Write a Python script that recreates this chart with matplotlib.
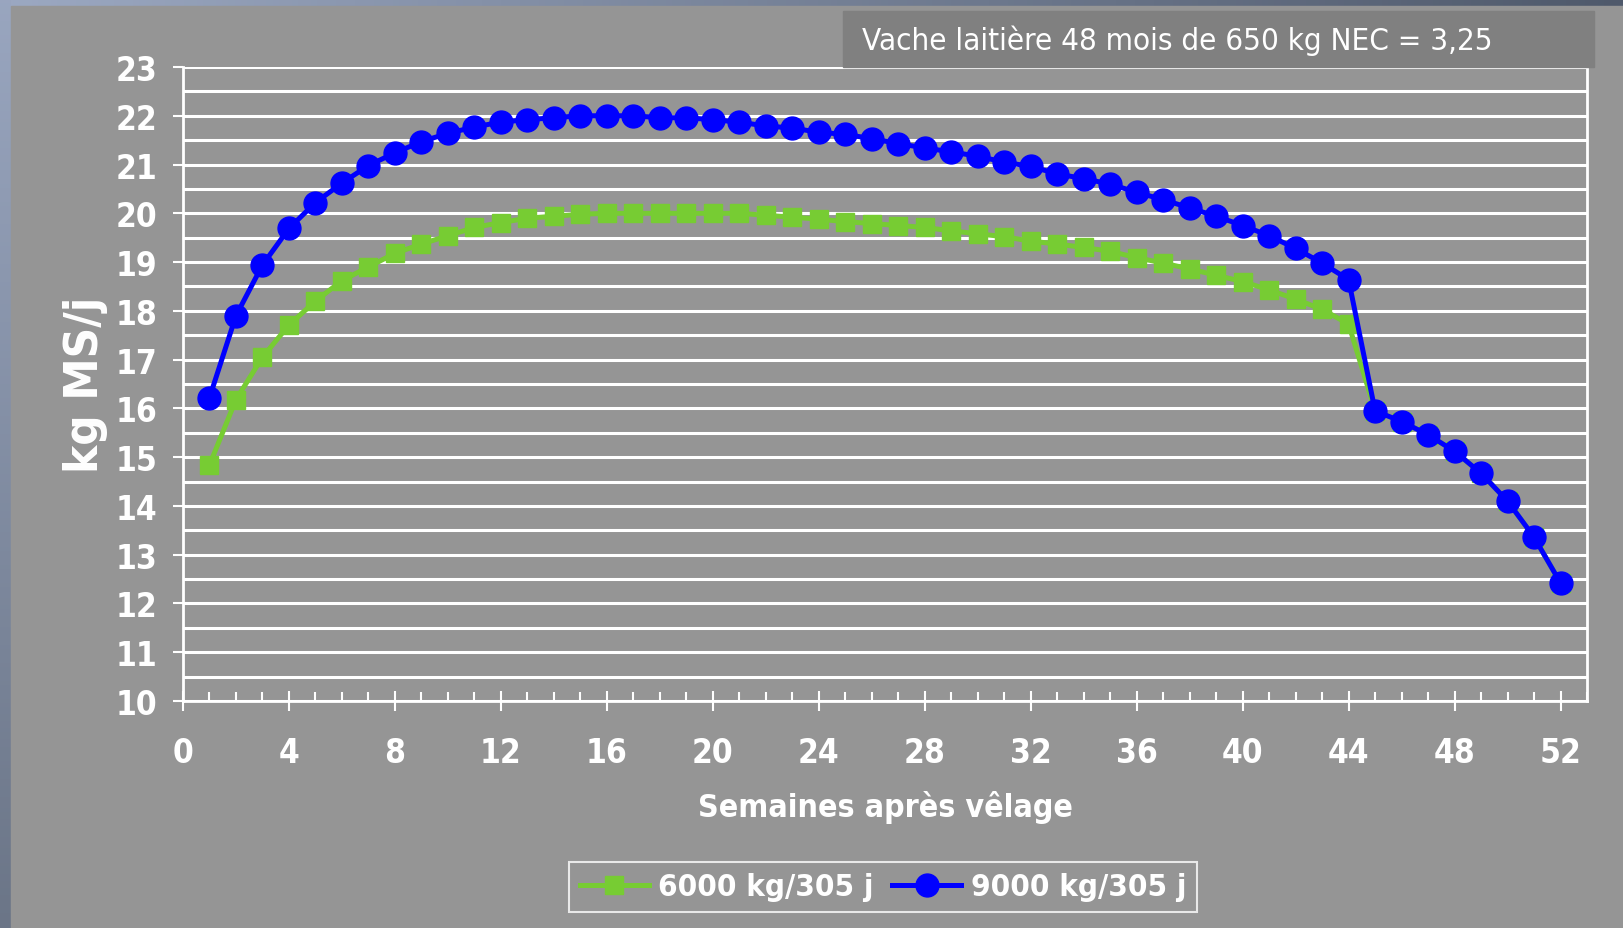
import numpy as np
import matplotlib
matplotlib.use("Agg")
import matplotlib.pyplot as plt
from matplotlib.patches import Rectangle
from matplotlib.ticker import MultipleLocator
from matplotlib.font_manager import FontProperties

# weekly dry matter intake (kg MS/j) after calving
weeks = list(range(1, 53))
intake_9000 = [16.22, 17.90, 18.94, 19.69, 20.22, 20.62, 20.98, 21.24, 21.47, 21.64,
               21.77, 21.87, 21.92, 21.96, 22.00, 22.00, 22.00, 21.96, 21.96, 21.92,
               21.87, 21.79, 21.75, 21.66, 21.62, 21.53, 21.43, 21.34, 21.26, 21.17,
               21.05, 20.96, 20.81, 20.71, 20.60, 20.43, 20.28, 20.11, 19.94, 19.75,
               19.54, 19.28, 18.98, 18.64, 15.95, 15.73, 15.46, 15.12, 14.67, 14.10,
               13.36, 12.42]
intake_6000 = [14.84, 16.18, 17.05, 17.71, 18.20, 18.62, 18.90, 19.18, 19.37, 19.54,
               19.71, 19.81, 19.90, 19.94, 19.98, 20.00, 20.00, 20.00, 20.00, 20.00,
               20.00, 19.96, 19.92, 19.88, 19.83, 19.79, 19.75, 19.71, 19.64, 19.58,
               19.52, 19.43, 19.37, 19.30, 19.22, 19.09, 18.98, 18.86, 18.73, 18.60,
               18.43, 18.24, 18.03, 17.73, 15.95, 15.73, 15.46, 15.12, 14.67, 14.10,
               13.36, 12.42]
label_6000 = "6000 kg/305 j"
label_9000 = "9000 kg/305 j"
title = "Vache laitière 48 mois de 650 kg NEC = 3,25"

W, H = 1623, 929
bg = "#959595"
fig = plt.figure(figsize=(W / 100, H / 100), dpi=100, facecolor=bg)

# slide border strips (gradient)
ax_bg = fig.add_axes([0, 0, 1, 1], zorder=-5)
ax_bg.axis("off")
ax_bg.set_xlim(0, W)
ax_bg.set_ylim(H, 0)
ramp = np.linspace(0, 1, 256)
c0, c1 = np.array([0.61, 0.66, 0.76]), np.array([0.31, 0.35, 0.42])
top_img = (c0[None, :] * (1 - ramp[:, None]) + c1[None, :] * ramp[:, None])[None, :, :]
ax_bg.imshow(top_img, extent=(0, W, 7, 0), aspect="auto")
l0, l1 = np.array([0.60, 0.65, 0.75]), np.array([0.42, 0.46, 0.53])
left_img = (l0[None, :] * (1 - ramp[:, None]) + l1[None, :] * ramp[:, None])[:, None, :]
ax_bg.imshow(left_img, extent=(0, 11, H, 0), aspect="auto")
ax_bg.add_patch(Rectangle((11, 7), W - 11, H - 7, color=bg))

x0, x1, y0, y1 = 183, 1587, 68, 702
ax = fig.add_axes([x0 / W, 1 - y1 / H, (x1 - x0) / W, (y1 - y0) / H])
ax.set_facecolor(bg)

ax.plot(weeks, intake_6000, color="#77cc33", lw=3.6, marker="s", ms=13.5,
        mec="#77cc33", label=label_6000, zorder=3)
ax.plot(weeks, intake_9000, color="#0000ff", lw=3.6, marker="o", ms=16.5,
        mec="#0000ff", label=label_9000, zorder=4)

ax.set_xlim(0, 53)
ax.set_ylim(10, 23)
ax.xaxis.set_major_locator(MultipleLocator(4))
ax.xaxis.set_minor_locator(MultipleLocator(1))
ax.yaxis.set_major_locator(MultipleLocator(1))
ax.yaxis.set_minor_locator(MultipleLocator(0.5))
ax.grid(which="both", axis="y", color="white", lw=2.2, zorder=1)
ax.set_axisbelow(True)
for s in ax.spines.values():
    s.set_color("white")
    s.set_linewidth(2)
ax.spines["top"].set_visible(False)

tick_font = FontProperties(family="DejaVu Sans", weight="bold", stretch="condensed", size=24)
ax.tick_params(axis="y", which="major", direction="out", length=7.5, width=1.5,
               color="white", labelcolor="white", pad=11)
ax.tick_params(axis="y", which="minor", length=0)
ax.tick_params(axis="x", which="major", direction="inout", length=14, width=1.5,
               color="white", labelcolor="white", pad=18)
ax.tick_params(axis="x", which="minor", direction="in", length=6.5, width=1.5,
               color="white")
for lab in ax.get_xticklabels() + ax.get_yticklabels():
    lab.set_fontproperties(tick_font)

ax.set_xlabel("Semaines après vêlage", color="white", fontsize=23, fontweight="bold",
              fontstretch="condensed")
ax.xaxis.set_label_coords(0.5, -(791 - y1) / (y1 - y0))
ax.set_ylabel("kg MS/j", color="white", fontsize=34, fontweight="bold",
              fontstretch="condensed")
ax.yaxis.set_label_coords(-(x0 - 108) / (x1 - x0), 0.5)

# title box over the top right corner
fig.add_artist(Rectangle((843 / W, 1 - 68 / H), (1594 - 843) / W, 56 / H,
                         transform=fig.transFigure, color="#808080", zorder=5))
fig.text(862 / W, 1 - 41 / H, title, color="white", fontsize=22.5,
         fontstretch="condensed", va="center", ha="left", zorder=6)

leg = fig.legend(loc="center", bbox_to_anchor=(883 / W, 1 - 888 / H), ncol=2,
                 frameon=True, fancybox=False, handlelength=2.2, handletextpad=0.3,
                 columnspacing=0.6, borderpad=0.35,
                 prop=FontProperties(family="DejaVu Sans", weight="bold",
                                     stretch="condensed", size=22.5))
leg.get_frame().set_facecolor("none")
leg.get_frame().set_edgecolor("white")
leg.get_frame().set_linewidth(1.5)
for t in leg.get_texts():
    t.set_color("white")

fig.savefig("out.png", dpi=100, facecolor=fig.get_facecolor())
